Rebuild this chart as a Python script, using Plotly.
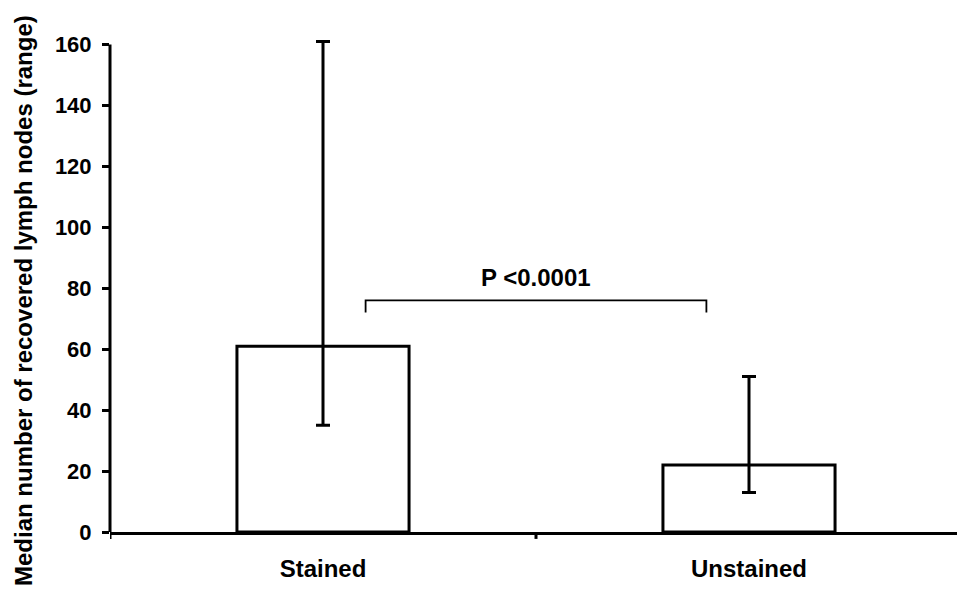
import plotly.graph_objects as go

categories = ["Stained", "Unstained"]
medians = [61, 22]
range_max = [161, 51]
range_min = [35, 13]
y_ticks = [0, 20, 40, 60, 80, 100, 120, 140, 160]
y_title = "Median number of recovered lymph nodes (range)"
bracket_x = [0.1, 0.1, 0.9, 0.9]
bracket_y = [72, 76, 76, 72]
p_label = "P <0.0001"
p_label_y = 83.5

FONT = "Liberation Sans"
Y_TOP = 161.8
err_plus = [hi - m for hi, m in zip(range_max, medians)]
err_minus = [m - lo for lo, m in zip(range_min, medians)]

fig = go.Figure()
fig.add_trace(go.Bar(
    x=[0, 1], y=medians, width=0.404,
    marker=dict(color="white", line=dict(color="black", width=3)),
    showlegend=False, hoverinfo="skip",
))
fig.add_trace(go.Scatter(
    x=[0, 1], y=medians, mode="markers",
    marker=dict(size=1, color="rgba(0,0,0,0)"),
    error_y=dict(type="data", symmetric=False, array=err_plus, arrayminus=err_minus,
                 color="black", thickness=3, width=7),
    cliponaxis=False, showlegend=False, hoverinfo="skip",
))
fig.add_trace(go.Scatter(
    x=bracket_x, y=bracket_y, mode="lines",
    line=dict(color="black", width=1.8),
    cliponaxis=False, showlegend=False, hoverinfo="skip",
))
fig.add_annotation(
    x=0.5, y=p_label_y, xref="x", yref="y", text="<b>" + p_label + "</b>",
    showarrow=False, font=dict(family=FONT, size=24, color="black"),
)
fig.add_annotation(
    x=-(110 - 23) / 852, y=(532 - 301) / 493, xref="paper", yref="paper",
    text="<b>" + y_title + "</b>", textangle=-90, showarrow=False,
    font=dict(family=FONT, size=24, color="black"),
    xanchor="center", yanchor="middle",
)

fig.update_layout(
    width=957, height=595,
    margin=dict(l=102, r=3, t=31, b=71),
    paper_bgcolor="white", plot_bgcolor="white",
    font=dict(family=FONT, color="black"),
    xaxis=dict(
        range=[-0.5, 1.5], tickmode="array", tickvals=[0, 1],
        ticktext=["<b>" + c + "</b>" for c in categories],
        tickfont=dict(family=FONT, size=24, color="black"),
        showline=True, linecolor="black", linewidth=3,
        showgrid=False, zeroline=False,
        ticks="", ticklabelstandoff=13,
    ),
    yaxis=dict(
        range=[0, Y_TOP], tickmode="array", tickvals=y_ticks,
        ticktext=["<b>%d</b>" % v for v in y_ticks],
        tickfont=dict(family=FONT, size=22, color="black"),
        showline=False,
        ticks="outside", ticklen=7, tickwidth=3, tickcolor="black",
        showgrid=False, zeroline=False, ticklabelstandoff=6,
    ),
)
# y axis line from 0 to the top tick
fig.add_shape(type="line", xref="paper", yref="y", x0=0, x1=0, y0=0, y1=y_ticks[-1],
              line=dict(color="black", width=3))
# boundary ticks on the x axis
for bx in [-0.5, 0.5, 1.5]:
    fig.add_shape(type="line", xref="x", yref="paper", x0=bx, x1=bx, y0=0, y1=-0.014,
                  line=dict(color="black", width=3))

fig.write_html("out.html")
